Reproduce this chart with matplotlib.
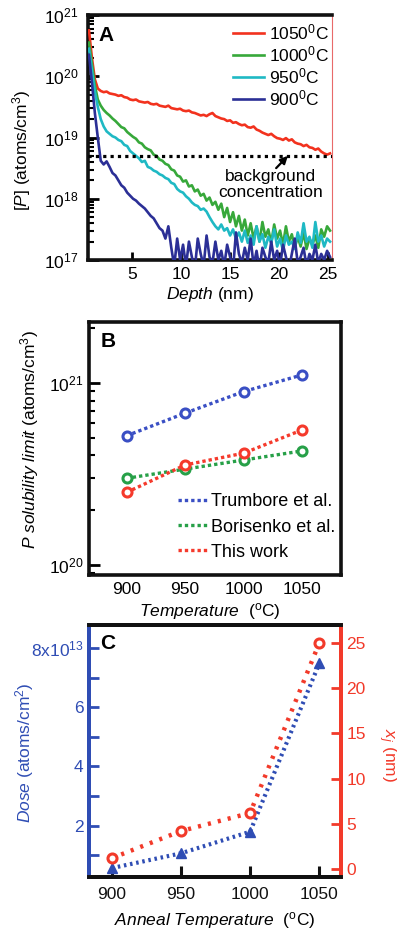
import numpy as np
import matplotlib
matplotlib.use('Agg')
import matplotlib.pyplot as plt
from matplotlib.ticker import LogLocator, NullFormatter, FixedLocator
from matplotlib.lines import Line2D

plt.rcParams['font.family'] = ['Liberation Sans', 'DejaVu Sans']
plt.rcParams['mathtext.fontset'] = 'custom'
plt.rcParams['mathtext.rm'] = 'Liberation Sans'
plt.rcParams['mathtext.it'] = 'Liberation Sans:italic'
plt.rcParams['mathtext.bf'] = 'Liberation Sans:bold'

# ---------------- data ----------------
# Panel A : SIMS profiles, depth grid (nm) and log10 of [P] (atoms/cm^3)
depth_nm = np.round(np.arange(0.6, 25.21, 0.3), 2)
log_p_1050 = [20.75, 20.30, 19.95, 19.80, 19.76, 19.74, 19.75, 19.72, 19.71, 19.70,
              19.68, 19.69, 19.66, 19.65, 19.62, 19.61, 19.62, 19.59, 19.58, 19.57,
              19.58, 19.55, 19.54, 19.55, 19.52, 19.51, 19.50, 19.52, 19.48, 19.47,
              19.46, 19.47, 19.44, 19.43, 19.44, 19.41, 19.40, 19.38, 19.36, 19.37,
              19.35, 19.38, 19.40, 19.35, 19.33, 19.31, 19.30, 19.27, 19.28, 19.24,
              19.25, 19.22, 19.20, 19.21, 19.17, 19.16, 19.18, 19.13, 19.11, 19.08,
              19.06, 19.04, 19.06, 19.02, 18.99, 18.98, 18.96, 18.99, 18.95, 18.97,
              18.92, 18.90, 18.89, 18.86, 18.88, 18.84, 18.83, 18.80, 18.82, 18.77,
              18.74, 18.72, 18.74]
log_p_1000 = [20.55, 20.20, 19.85, 19.62, 19.52, 19.45, 19.40, 19.36, 19.31, 19.27,
              19.22, 19.17, 19.15, 19.09, 19.05, 19.01, 18.98, 18.92, 18.90, 18.84,
              18.81, 18.79, 18.72, 18.70, 18.64, 18.62, 18.57, 18.55, 18.48, 18.46,
              18.38, 18.36, 18.28, 18.30, 18.20, 18.22, 18.12, 18.15, 18.05, 18.08,
              17.97, 18.02, 17.90, 17.95, 17.82, 17.92, 17.70, 17.85, 17.62, 17.78,
              17.55, 17.72, 17.48, 17.66, 17.40, 17.60, 17.35, 17.55, 17.30, 17.62,
              17.38, 17.50, 17.28, 17.58, 17.35, 17.48, 17.25, 17.55, 17.30, 17.42,
              17.20, 17.38, 17.22, 17.45, 17.18, 17.35, 17.25, 17.40, 17.20, 17.50,
              17.38, 17.55, 17.48]
log_p_950 = [20.45, 20.10, 19.75, 19.50, 19.30, 19.18, 19.10, 19.06, 19.02, 19.00,
             18.96, 18.94, 18.88, 18.86, 18.78, 18.74, 18.70, 18.66, 18.60, 18.62,
             18.52, 18.50, 18.46, 18.44, 18.40, 18.38, 18.34, 18.32, 18.26, 18.24,
             18.16, 18.12, 18.10, 18.04, 18.00, 17.94, 17.90, 17.88, 17.82, 17.84,
             17.79, 17.70, 17.62, 17.55, 17.50, 17.58, 17.48, 17.52, 17.40, 17.50,
             17.35, 17.45, 17.30, 17.48, 17.28, 17.40, 17.25, 17.55, 17.30, 17.42,
             17.20, 17.38, 17.28, 17.50, 17.22, 17.35, 17.15, 17.40, 17.25, 17.30,
             17.18, 17.45, 17.28, 17.60, 17.30, 17.38, 17.20, 17.62, 17.30, 17.40,
             17.22, 17.35, 17.30]
log_p_900 = [20.35, 19.90, 19.40, 19.00, 18.62, 18.56, 18.61, 18.52, 18.42, 18.38,
             18.30, 18.22, 18.18, 18.10, 18.05, 18.00, 17.97, 17.92, 17.88, 17.84,
             17.78, 17.72, 17.68, 17.60, 17.52, 17.48, 17.35, 17.55, 17.20, 16.90,
             17.35, 17.00, 17.25, 16.90, 17.30, 17.05, 16.85, 17.35, 17.10, 16.90,
             17.40, 17.05, 16.95, 17.30, 17.00, 17.15, 16.90, 17.25, 17.05, 16.85,
             17.45, 17.10, 16.95, 17.20, 17.00, 17.35, 16.90, 17.15, 16.85, 17.20,
             17.05, 16.95, 17.30, 17.00, 17.15, 16.90, 17.25, 17.05, 16.85, 17.10,
             17.35, 16.95, 17.05, 17.20, 16.90, 17.10, 17.00, 17.25, 16.95, 17.10,
             17.00, 17.15, 17.05]
labels_a = ['1050$^0$C', '1000$^0$C', '950$^0$C', '900$^0$C']
background_log = 18.70

# Panel B : solubility limit
temps_b = [900, 950, 1000, 1050]
trumbore = [5.12e20, 6.82e20, 8.96e20, 1.107e21]
borisenko = [2.99e20, 3.36e20, 3.77e20, 4.23e20]
this_work = [2.50e20, 3.54e20, 4.11e20, 5.52e20]
labels_b = ['Trumbore et al.', 'Borisenko et al.', 'This work']

# Panel C : dose and junction depth
temps_c = [900, 950, 1000, 1050]
dose_1e13 = [0.56, 1.06, 1.79, 7.48]
xj_nm = [1.2, 4.2, 6.2, 25.0]

# ---------------- figure ----------------
W, H = 397, 930
fig = plt.figure(figsize=(W / 100, H / 100), dpi=100)


def rect(l, t, r, b):
    return [l / W, 1 - b / H, (r - l) / W, (b - t) / H]


def fx(x):
    return x / W


def fy(y):
    return 1 - y / H


FS = 12.5
BLK = '#111111'

# ---- Panel A ----
axA = fig.add_axes(rect(88, 15, 332, 260))
colA = ['#f2321e', '#37a83a', '#1fb9c4', '#2b2f96']
series_a = [log_p_1050, log_p_1000, log_p_950, log_p_900]
zs = [3, 4, 5, 6]
handles = []
for lp, c, lab, z in zip(series_a, colA, labels_a, zs):
    h, = axA.plot(depth_nm, 10 ** np.array(lp), color=c, lw=1.9, label=lab, zorder=z)
    handles.append(h)
axA.plot([0.5, 25.4], [10 ** background_log] * 2, color='black', lw=2.3,
         linestyle=(0, (1, 1.3)), zorder=7)
axA.set_yscale('log')
axA.set_ylim(1e17, 1e21)
axA.set_xlim(0.5, 25.4)
axA.set_xticks([5, 10, 15, 20, 25])
axA.yaxis.set_major_locator(LogLocator(base=10, numticks=10))
axA.yaxis.set_minor_locator(LogLocator(base=10, subs=np.arange(2, 10), numticks=10))
axA.yaxis.set_minor_formatter(NullFormatter())
axA.tick_params(axis='y', which='major', direction='in', length=8, width=2, labelsize=FS, pad=7)
axA.tick_params(axis='y', which='minor', direction='in', length=4.5, width=1.5)
axA.tick_params(axis='x', which='major', direction='in', length=6, width=2, labelsize=FS, pad=5)
for s in ['left', 'bottom', 'top']:
    axA.spines[s].set_linewidth(2.6)
    axA.spines[s].set_color(BLK)
axA.spines['right'].set_linewidth(0.8)
axA.spines['right'].set_color('#e86a6a')
axA.text(0.045, 0.955, 'A', transform=axA.transAxes, fontsize=15, fontweight='bold',
         va='top', ha='left')
axA.legend(handles=handles, loc='upper right', bbox_to_anchor=(1.0, 0.985), frameon=False,
           fontsize=FS, handlelength=1.8, handletextpad=0.25, labelspacing=0.12,
           borderpad=0.0, borderaxespad=0.2)
axA.text(19.1, 10 ** 18.235, 'background\nconcentration', fontsize=FS, ha='center',
         va='center', linespacing=1.1, zorder=2)
axA.annotate('', xy=(20.9, 10 ** 18.70), xytext=(19.7, 10 ** 18.50),
             arrowprops=dict(arrowstyle='-|>', color='black', lw=1.6, mutation_scale=11,
                             shrinkA=0, shrinkB=0),
             zorder=8)
fig.text(fx(22), fy(150), r'$\mathit{[P]}$ (atoms/cm$^3$)', rotation=90, ha='center',
         va='center', fontsize=FS)
fig.text(fx(210), fy(294), r'$\mathit{Depth}$ (nm)', ha='center', va='center', fontsize=FS)

# ---- Panel B ----
axB = fig.add_axes(rect(89, 322, 341, 575))
colB = ['#3a4fc4', '#27a048', '#f53a2c']
series_b = [trumbore, borisenko, this_work]
hb = []
for vals, c, lab in zip(series_b, colB, labels_b):
    axB.plot(temps_b, vals, color=c, lw=2.4, linestyle=(0, (1, 0.9)), marker='o', ms=6.5,
             mfc='white', mec=c, mew=2.2)
    hb.append(Line2D([], [], color=c, lw=2.4, linestyle=(0, (1, 0.9))))
axB.set_yscale('log')
axB.set_ylim(8.8e19, 2.16e21)
axB.set_xlim(868, 1083)
axB.set_xticks(temps_b)
axB.yaxis.set_major_locator(LogLocator(base=10, numticks=10))
axB.yaxis.set_minor_locator(LogLocator(base=10, subs=np.arange(2, 10), numticks=10))
axB.yaxis.set_minor_formatter(NullFormatter())
axB.tick_params(axis='y', which='major', direction='in', length=8, width=2, labelsize=FS, pad=4)
axB.tick_params(axis='y', which='minor', direction='in', length=4.5, width=1.5)
axB.tick_params(axis='x', which='major', direction='in', length=0, width=2, labelsize=FS, pad=5)
for s in axB.spines.values():
    s.set_linewidth(2.6)
    s.set_color(BLK)
axB.text(0.045, 0.96, 'B', transform=axB.transAxes, fontsize=15, fontweight='bold',
         va='top', ha='left')
axB.legend(handles=hb, labels=labels_b, loc='lower right', bbox_to_anchor=(1.0, 0.035),
           frameon=False, fontsize=13, handlelength=1.65, handletextpad=0.2,
           labelspacing=0.45, borderpad=0.0, borderaxespad=0.3)
fig.text(fx(30), fy(440), r'$\mathit{P\ solubility\ limit}$ (atoms/cm$^3$)', rotation=90,
         ha='center', va='center', fontsize=FS)
fig.text(fx(210), fy(611), r'$\mathit{Temperature}$  ($^{\mathrm{o}}$C)', ha='center',
         va='center', fontsize=FS)

# ---- Panel C ----
BLUE = '#2f4db4'
RED = '#f23a2a'
axC = fig.add_axes(rect(89, 625, 341, 877))
axC2 = axC.twinx()
axC.plot(temps_c, dose_1e13, color=BLUE, lw=3.0, linestyle=(0, (0.6, 0.9)),
         marker='^', ms=7, mfc=BLUE, mec=BLUE, zorder=3)
axC2.plot(temps_c, xj_nm, color=RED, lw=3.2, linestyle=(0, (0.7, 1.6)),
          marker='o', ms=6.5, mfc='white', mec=RED, mew=2.2, zorder=3)
axC.set_xlim(883.6, 1065.7)
axC.set_xticks(temps_c)
axC.set_ylim(0.26, 8.78)
axC.yaxis.set_major_locator(FixedLocator([2, 4, 6, 8]))
axC.yaxis.set_minor_locator(FixedLocator([1, 3, 5, 7]))
axC.set_yticklabels(['2', '4', '6', '8x10$^{13}$'])
axC2.set_ylim(-0.88, 27.0)
axC2.set_yticks([0, 5, 10, 15, 20, 25])
axC.tick_params(axis='y', which='major', direction='in', length=7, width=2, colors=BLUE,
                labelsize=FS, pad=4)
axC.tick_params(axis='y', which='minor', direction='in', length=7, width=2, colors=BLUE)
axC.tick_params(axis='x', which='major', direction='in', length=8, width=2.2, colors=BLK,
                labelsize=FS, pad=7)
axC2.tick_params(axis='y', which='major', direction='in', length=7, width=2, colors=RED,
                 labelsize=FS, pad=4)
for a in (axC, axC2):
    a.spines['top'].set_linewidth(2.8)
    a.spines['top'].set_color(BLK)
    a.spines['bottom'].set_linewidth(2.8)
    a.spines['bottom'].set_color(BLK)
    a.spines['left'].set_linewidth(2.8)
    a.spines['left'].set_color(BLUE)
    a.spines['right'].set_linewidth(2.8)
    a.spines['right'].set_color(RED)
axC.text(0.045, 0.965, 'C', transform=axC.transAxes, fontsize=15, fontweight='bold',
         va='top', ha='left')
fig.text(fx(25), fy(753), r'$\mathit{Dose}$ (atoms/cm$^2$)', rotation=90, ha='center',
         va='center', fontsize=FS, color=BLUE)
fig.text(fx(387), fy(755), r'$x_j$ (nm)', rotation=270, ha='center', va='center',
         fontsize=FS, color=RED)
fig.text(fx(215), fy(920), r'$\mathit{Anneal\ Temperature}$  ($^{\mathrm{o}}$C)',
         ha='center', va='center', fontsize=FS)

fig.savefig('out.png', dpi=100, facecolor='white')
